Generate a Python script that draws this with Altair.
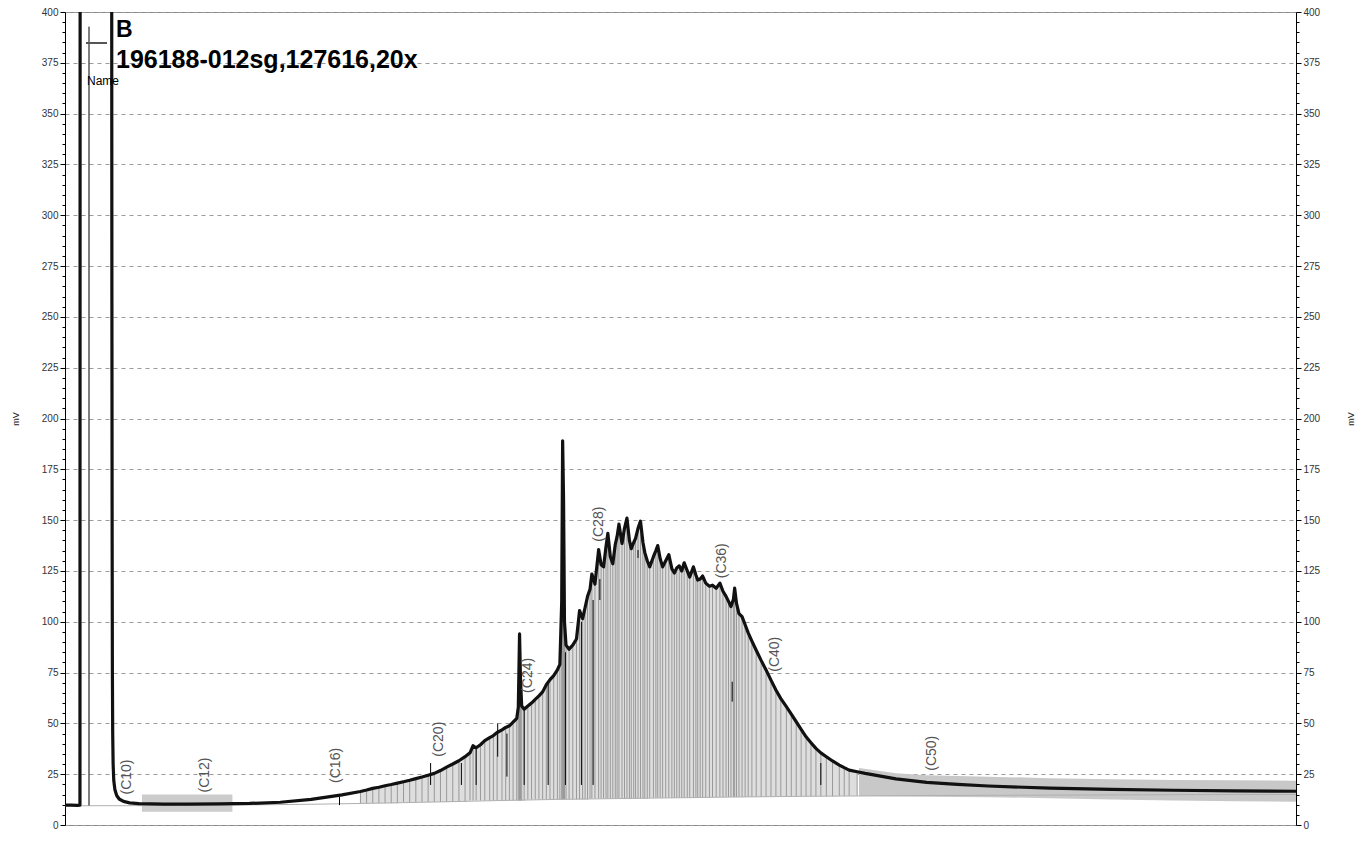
import altair as alt
import pandas as pd

# ---------------- data ----------------
curve_t = [0.00, 0.10, 0.20, 0.243, 0.246, 0.758, 0.762, 0.766, 0.770, 0.775, 0.782, 0.792, 0.81, 0.84, 0.88, 0.95,
           1.05, 1.20, 1.60, 2.00, 2.50, 3.00, 3.50, 4.00, 4.50, 4.80, 4.90, 5.00, 5.10, 5.20, 5.30, 5.40, 5.50,
           5.60, 5.70, 5.80, 5.90, 6.00, 6.10, 6.20, 6.30, 6.40, 6.50, 6.58, 6.63, 6.68, 6.75, 6.82, 6.90, 6.96,
           7.02, 7.10, 7.16, 7.22, 7.28, 7.34, 7.365, 7.385, 7.40, 7.42, 7.46, 7.52, 7.58, 7.64, 7.70, 7.76, 7.82,
           7.88, 7.94, 8.00, 8.04, 8.07, 8.085, 8.10, 8.115, 8.14, 8.19, 8.25, 8.31, 8.36, 8.41, 8.45, 8.49, 8.53,
           8.56, 8.61, 8.67, 8.71, 8.75, 8.79, 8.82, 8.86, 8.90, 8.94, 8.97, 9.00, 9.05, 9.09, 9.13, 9.17, 9.20,
           9.24, 9.27, 9.31, 9.35, 9.39, 9.42, 9.46, 9.50, 9.56, 9.60, 9.63, 9.67, 9.71, 9.76, 9.81, 9.86, 9.90,
           9.94, 9.98, 10.02, 10.06, 10.11, 10.15, 10.21, 10.25, 10.28, 10.32, 10.36, 10.41, 10.47, 10.52, 10.58,
           10.64, 10.69, 10.74, 10.78, 10.82, 10.86, 10.88, 10.91, 10.95, 11.00, 11.05, 11.10, 11.16, 11.23, 11.31,
           11.39, 11.47, 11.55, 11.63, 11.72, 11.80, 11.88, 11.96, 12.04, 12.12, 12.20, 12.28, 12.37, 12.47, 12.58,
           12.66, 12.74, 12.87, 13.00, 13.50, 14.00, 14.50, 15.00, 16.00, 17.00, 18.00, 19.00, 20.00]
curve_mv = [9.8, 9.8, 9.7, 9.8, 450, 450, 260, 140, 75, 45, 30, 22, 17.5, 14.5, 12.8, 11.6,
            10.9, 10.5, 10.3, 10.3, 10.4, 10.6, 11.2, 12.6, 14.8, 16.5, 17.2, 18.0, 18.6, 19.3, 19.9, 20.6, 21.3,
            22.0, 22.8, 23.6, 24.5, 25.4, 26.8, 28.5, 30.0, 31.6, 33.6, 35.5, 39.0, 38.0, 39.5, 41.5, 43.0, 44.0,
            45.5, 46.8, 48.0, 48.8, 50.6, 52.5, 58, 94, 72, 58.5, 57.0, 58.5, 60.0, 61.8, 63.5, 65.5, 69.0,
            71.5, 73.5, 76.3, 79.0, 110, 189, 160, 100, 88.5, 86.5, 88.5, 91.5, 105.5, 101.5, 107, 112.5, 116,
            123.5, 118.5, 135.5, 128, 127, 137, 143.5, 132, 128.5, 138, 142, 148, 138.5, 146, 151, 140, 136,
            139, 141, 146, 149.5, 139, 134, 130, 127, 132, 135, 137.5, 131, 127, 130, 133, 126, 124,
            126.5, 127.5, 125, 129, 125, 122, 127, 123, 120.5, 121, 122.5, 119, 117.5, 118, 116.5,
            119, 115, 112.5, 110, 107.5, 111, 116.5, 109, 104, 102.5, 98.5, 94.5, 90.5, 86, 81,
            76.3, 71.3, 66.4, 62.2, 58.2, 54.5, 50.8, 47, 43.4, 40.5, 37.7, 35.5, 33.6, 31.5, 29.5,
            28.2, 27.0, 26.2, 25.4, 22.7, 21.0, 20.0, 19.2, 18.1, 17.5, 17.1, 16.8, 16.6]

# integration baseline, one level per whole minute
baseline_min = list(range(21))
baseline_mv = [9.5, 9.5, 9.7, 9.9, 10.2, 10.7, 11.3, 12.0, 12.6, 13.0, 13.4, 13.8, 14.1, 14.3, 14.5,
               14.6, 14.7, 14.8, 14.9, 15.0, 15.0]

# dense peak-marker noise in the tail
tail_t = [12.9, 13.5, 14.0, 15.0, 16.0, 17.0, 18.0, 19.0, 20.0]
tail_lo = [14.3, 14.0, 13.9, 13.7, 13.2, 12.5, 12.0, 11.7, 11.5]
tail_hi = [28.0, 25.5, 24.5, 23.8, 23.0, 22.5, 22.2, 22.0, 21.8]

# dense peak-marker noise near the start
early_t = [1.25, 2.72]
early_lo = [6.5, 6.5]
early_hi = [15.0, 15.0]

# black event markers
mark_t = [0.39, 4.46, 5.94, 6.44, 6.68, 7.03, 7.18, 7.46, 7.85, 8.13, 8.39, 8.58, 8.69, 9.31, 10.84, 12.28]
mark_lo = [9.6, 9.8, 19.7, 19.7, 19.7, 33.6, 23.8, 19.7, 19.7, 19.7, 19.7, 19.7, 110.7, 131.4, 60.7, 19.7]
mark_hi = [392.8, 13.9, 30.5, 30.5, 38.5, 50.0, 45.0, 58.2, 70.0, 85.0, 100.0, 110.7, 121.0, 135.3, 70.5, 30.5]

# carbon-number labels
lab_text = ["(C10)", "(C12)", "(C16)", "(C20)", "(C24)", "(C28)", "(C36)", "(C40)", "(C50)"]
lab_t = [1.0, 2.27, 4.41, 6.08, 7.52, 8.68, 10.68, 11.53, 14.09]
lab_mv = [15.0, 16.0, 20.7, 33.6, 65.0, 139.4, 121.4, 75.4, 26.7]

x_ticks = [round(i * 0.2, 1) for i in range(101)]
y_ticks = list(range(0, 401, 5))

# ---------------- frames ----------------
W, H = 1231, 813
df = pd.DataFrame({"t": curve_t, "mv": curve_mv})
base_lookup = dict(zip(baseline_min, baseline_mv))
df["base"] = [base_lookup[int(round(t))] for t in df["t"]]
hump = df[(df["t"] >= 4.75) & (df["t"] <= 12.95)]
base_df = pd.DataFrame({"t": baseline_min, "mv": baseline_mv})
tail_df = pd.DataFrame({"t": tail_t, "lo": tail_lo, "hi": tail_hi})
early_df = pd.DataFrame({"t": early_t, "lo": early_lo, "hi": early_hi})
mark_df = pd.DataFrame({"t": mark_t, "lo": mark_lo, "hi": mark_hi})
lab_df = pd.DataFrame({"text": lab_text, "t": lab_t, "mv": lab_mv})

FONT = "Liberation Sans"
xscale = alt.Scale(domain=[0, 20], nice=False, zero=False)
yscale = alt.Scale(domain=[0, 400], nice=False)

is_int_x = "abs(datum.value - round(datum.value)) < 0.01"
is_major_y = "datum.value % 25 === 0"

x_axis = alt.Axis(
    values=x_ticks, title="Minutes",
    labelExpr=f"({is_int_x}) ? format(datum.value, 'd') : ''",
    tickSize={"condition": {"test": is_int_x, "value": 5}, "value": 3},
    gridOpacity={"condition": {"test": is_int_x, "value": 1}, "value": 0},
    grid=True, gridDash=[4, 4], gridColor="#9a9a9a", gridWidth=1,
    domainColor="black", tickColor="black", labelColor="#333333", labelFontSize=10, labelFont=FONT,
    labelOverlap=False, labelFlush=False, labelPadding=4,
    titleFont=FONT, titleFontSize=9, titleFontWeight="normal", titlePadding=4, titleColor="#222222",
)


def y_axis(orient):
    return alt.Axis(
        orient=orient, values=y_ticks, title="mV",
        labelExpr=f"({is_major_y}) ? datum.label : ''",
        tickSize={"condition": {"test": is_major_y, "value": 5}, "value": 3},
        gridOpacity={"condition": {"test": is_major_y, "value": 1}, "value": 0},
        grid=(orient == "left"), gridDash=[4, 4], gridColor="#9a9a9a", gridWidth=1,
        domainColor="black", tickColor="black", labelColor="#333333", labelFontSize=10, labelFont=FONT,
        labelOverlap=False, labelFlush=False, labelPadding=2,
        titleFont=FONT, titleFontSize=9, titleFontWeight="normal", titleColor="#222222",
        titleAngle=270, titleAlign="center", titleBaseline="middle",
        titleX=(-50 if orient == "left" else 54), titleY=H / 2,
    )


fill = alt.Chart(hump).mark_area(color="#dedede").encode(
    x=alt.X("t:Q", scale=xscale, axis=x_axis),
    y=alt.Y("mv:Q", scale=yscale, axis=y_axis("left")),
    y2="base:Q",
)
stripes = alt.Chart(hump).mark_rule(color="#999999", strokeWidth=1).encode(
    x=alt.X("t:Q", scale=xscale, axis=None),
    y=alt.Y("base:Q", scale=yscale, axis=None),
    y2="mv:Q",
)
tail = alt.Chart(tail_df).mark_area(color="#c8c8c8").encode(
    x=alt.X("t:Q", scale=xscale, axis=None),
    y=alt.Y("lo:Q", scale=yscale, axis=None),
    y2="hi:Q",
)
early = alt.Chart(early_df).mark_area(color="#cccccc").encode(
    x=alt.X("t:Q", scale=xscale, axis=None),
    y=alt.Y("lo:Q", scale=yscale, axis=None),
    y2="hi:Q",
)
baseline = alt.Chart(base_df).mark_line(color="#b0b0b0", strokeWidth=1).encode(
    x=alt.X("t:Q", scale=xscale, axis=None),
    y=alt.Y("mv:Q", scale=yscale, axis=y_axis("right")),
)
markers = alt.Chart(mark_df).mark_rule(color="black", strokeWidth=1).encode(
    x=alt.X("t:Q", scale=xscale, axis=None),
    y=alt.Y("lo:Q", scale=yscale, axis=None),
    y2="hi:Q",
)
curve = alt.Chart(df).mark_line(color="#111111", strokeWidth=3.2, clip=True, strokeJoin="round").encode(
    x=alt.X("t:Q", scale=xscale, axis=None),
    y=alt.Y("mv:Q", scale=yscale, axis=None),
    order="t:Q",
)
labels = alt.Chart(lab_df).mark_text(
    angle=270, align="left", baseline="middle", font=FONT, fontSize=14, color="#555555"
).encode(
    x=alt.X("t:Q", scale=xscale, axis=None),
    y=alt.Y("mv:Q", scale=yscale, axis=None),
    text="text:N",
)

legend_line = alt.Chart(pd.DataFrame({"k": [0]})).mark_rule(color="#555555", strokeWidth=2).encode(
    x=alt.value(21), x2=alt.value(42), y=alt.value(31)
)
legend_b = alt.Chart(pd.DataFrame({"k": [0]})).mark_text(
    text="B", align="left", baseline="alphabetic", font=FONT, fontSize=23, fontWeight="bold", color="black"
).encode(x=alt.value(51), y=alt.value(25))
legend_name = alt.Chart(pd.DataFrame({"k": [0]})).mark_text(
    text="196188-012sg,127616,20x", align="left", baseline="alphabetic", font=FONT, fontSize=25,
    fontWeight="bold", color="black"
).encode(x=alt.value(51), y=alt.value(56))
legend_sub = alt.Chart(pd.DataFrame({"k": [0]})).mark_text(
    text="Name", align="left", baseline="alphabetic", font=FONT, fontSize=12, color="black"
).encode(x=alt.value(22), y=alt.value(73))

chart = alt.layer(
    fill, stripes, tail, early, baseline, markers, curve, labels,
    legend_line, legend_b, legend_name, legend_sub,
).resolve_axis(y="independent").properties(
    width=W, height=H,
    autosize=alt.AutoSizeParams(type="none"),
    padding={"left": 57, "top": 4, "right": 60, "bottom": 32},
).configure(font=FONT).configure_view(stroke="#888888", strokeWidth=1)

chart.save("out.html", embed_options={"renderer": "svg", "actions": False})
